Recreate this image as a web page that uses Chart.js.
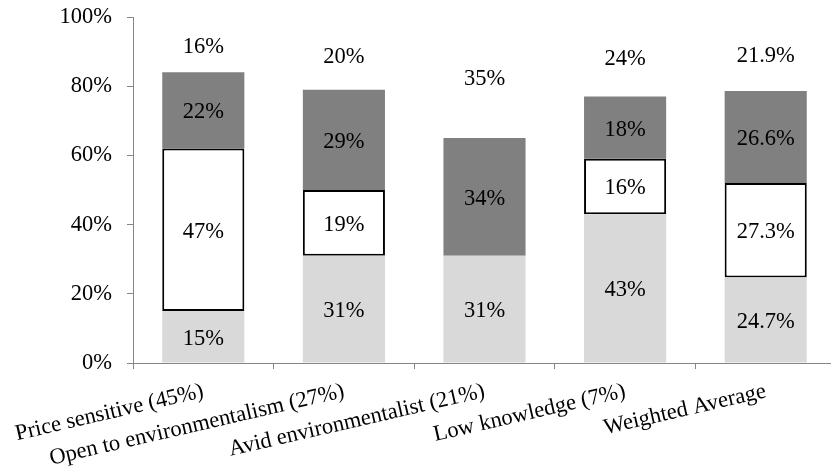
<!DOCTYPE html>
<html>
<head>
<meta charset="utf-8">
<script src="https://cdn.jsdelivr.net/npm/chart.js@4/dist/chart.umd.min.js"></script>
<style>
  html, body { margin: 0; padding: 0; background: #fff; overflow: hidden; }
  #wrap { width: 831px; height: 468px; overflow: hidden; }
  canvas { display: block; }
</style>
</head>
<body>
<div id="wrap"><canvas id="c" width="836" height="468" style="width:836px;height:468px"></canvas></div>
<script>
// Segment shares (%) per consumer group, stacked from bottom to top
const categories = [
  'Price sensitive (45%)',
  'Open to environmentalism (27%)',
  'Avid environmentalist (21%)',
  'Low knowledge (7%)',
  'Weighted Average'
];
const baseShare = [15, 31, 31, 43, 24.7];
const middleShare = [47, 19, 0, 16, 27.3];
const upperShare = [22, 29, 34, 18, 26.6];
const remainderShare = [16, 20, 35, 24, 21.9];
const yTicks = [0, 20, 40, 60, 80, 100];

const FONT = '"Liberation Serif", "Times New Roman", serif';
const FONT_SIZE = 22.5;
const AXIS_GREY = '#868686';

function fmt(v) {
  return (Number.isInteger(v) ? String(v) : v.toFixed(1)) + '%';
}

// Writes each segment's value at the middle of its visible part
const segmentLabels = {
  id: 'segmentLabels',
  afterDatasetsDraw(chart) {
    const ctx = chart.ctx;
    const area = chart.chartArea;
    ctx.save();
    ctx.font = FONT_SIZE + 'px ' + FONT;
    ctx.fillStyle = '#000';
    ctx.textAlign = 'center';
    ctx.textBaseline = 'middle';
    chart.data.datasets.forEach((ds, di) => {
      const meta = chart.getDatasetMeta(di);
      meta.data.forEach((bar, i) => {
        const v = ds.data[i];
        if (!v) return;
        const p = bar.getProps(['x', 'y', 'base'], true);
        const top = Math.max(Math.min(p.y, p.base), area.top);
        const bottom = Math.min(Math.max(p.y, p.base), area.bottom);
        ctx.fillText(fmt(v), p.x, (top + bottom) / 2 + 2);
      });
    });
    ctx.restore();
  }
};

const barShape = { barPercentage: 0.584, categoryPercentage: 1.0, borderSkipped: false };

new Chart(document.getElementById('c'), {
  type: 'bar',
  data: {
    labels: categories,
    datasets: [
      Object.assign({ data: baseShare, backgroundColor: '#d9d9d9', borderWidth: 0 }, barShape),
      Object.assign({ data: middleShare, backgroundColor: '#ffffff', borderColor: '#000000', borderWidth: 2 }, barShape),
      Object.assign({ data: upperShare, backgroundColor: '#808080', borderWidth: 0 }, barShape),
      Object.assign({ data: remainderShare, backgroundColor: 'rgba(0,0,0,0)', borderWidth: 0 }, barShape)
    ]
  },
  options: {
    responsive: false,
    animation: false,
    layout: { padding: { top: 17, right: 0, bottom: 0, left: 0 } },
    plugins: {
      legend: { display: false },
      tooltip: { enabled: false }
    },
    scales: {
      x: {
        stacked: true,
        offset: true,
        grid: { display: true, offset: true, drawOnChartArea: false, drawTicks: true, tickLength: 6, color: AXIS_GREY },
        border: { display: true, color: AXIS_GREY, width: 1 },
        ticks: {
          autoSkip: false,
          minRotation: 13,
          maxRotation: 13,
          padding: 9,
          color: '#000',
          font: { family: FONT, size: FONT_SIZE }
        },
        afterFit(s) { s.height = 105; s.paddingLeft = 0; s.paddingRight = 0; }
      },
      y: {
        stacked: true,
        min: 0,
        max: 100,
        afterBuildTicks(s) { s.ticks = yTicks.map(v => ({ value: v })); },
        grid: { drawOnChartArea: false, drawTicks: true, tickLength: 6, color: AXIS_GREY },
        border: { display: true, color: AXIS_GREY, width: 1 },
        ticks: {
          padding: 15,
          color: '#000',
          font: { family: FONT, size: FONT_SIZE },
          callback: v => v + '%'
        },
        afterFit(s) { s.width = 133; s.paddingTop = 0; s.paddingBottom = 0; }
      }
    }
  },
  plugins: [segmentLabels]
});
</script>
</body>
</html>
